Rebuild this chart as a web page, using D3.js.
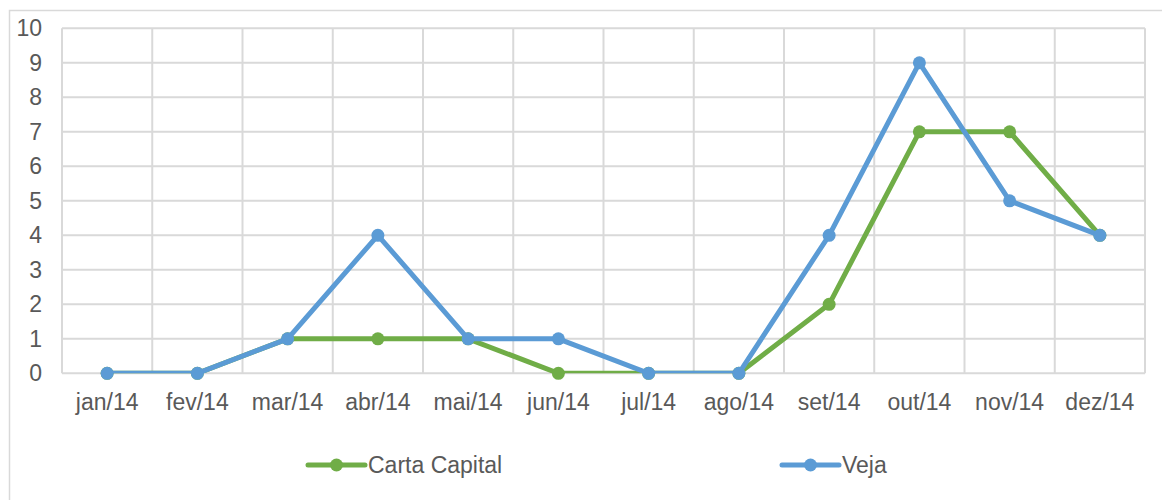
<!DOCTYPE html>
<html>
<head>
<meta charset="utf-8">
<script src="https://cdn.jsdelivr.net/npm/d3@7.9.0/dist/d3.min.js"></script>
<style>
  body { margin: 0; background: #fff; }
  svg text { font-family: "Liberation Sans", Arial, sans-serif; fill: #595959; }
</style>
</head>
<body>
<svg id="chart" width="1162" height="500"></svg>
<script>
const months = ['jan/14', 'fev/14', 'mar/14', 'abr/14', 'mai/14', 'jun/14',
                'jul/14', 'ago/14', 'set/14', 'out/14', 'nov/14', 'dez/14'];
const cartaCapital = [0, 0, 1, 1, 1, 0, 0, 0, 2, 7, 7, 4];
const veja = [0, 0, 1, 4, 1, 1, 0, 0, 4, 9, 5, 4];
const yTicks = [0, 1, 2, 3, 4, 5, 6, 7, 8, 9, 10];

const series = [
    { name: 'Carta Capital', values: cartaCapital, color: '#70ad47' },
    { name: 'Veja', values: veja, color: '#5b9bd5' }
];

const svg = d3.select('#chart');
const plot = { left: 62, right: 1145, top: 28.3, bottom: 373.3 };

// outer chart frame (runs off the right and bottom)
svg.append('rect')
    .attr('x', 9.5).attr('y', 10.5)
    .attr('width', 1300).attr('height', 700)
    .attr('fill', 'none').attr('stroke', '#d9d9d9').attr('stroke-width', 1.5);

const x = d3.scaleBand().domain(months).range([plot.left, plot.right]);
const y = d3.scaleLinear().domain([0, 10]).range([plot.bottom, plot.top]);

// grid
const grid = svg.append('g').attr('stroke', '#d9d9d9').attr('stroke-width', 2);
yTicks.forEach(t => {
    grid.append('line')
        .attr('x1', plot.left).attr('x2', plot.right)
        .attr('y1', y(t)).attr('y2', y(t));
});
months.concat([null]).forEach((m, i) => {
    let xv = m === null ? x.range()[1] : x(m);
    grid.append('line')
        .attr('x1', xv).attr('x2', xv)
        .attr('y1', plot.top).attr('y2', plot.bottom);
});

// y axis labels
const yAxis = svg.append('g')
    .attr('transform', `translate(${plot.left},0)`)
    .call(d3.axisLeft(y).tickValues(yTicks).tickSize(0).tickPadding(20));
yAxis.select('.domain').remove();
yAxis.selectAll('text')
    .attr('font-size', 23).attr('fill', '#595959')
    .style('font-family', '"Liberation Sans", Arial, sans-serif');

// x axis labels
const xAxis = svg.append('g')
    .attr('transform', `translate(0,${plot.bottom})`)
    .call(d3.axisBottom(x).tickSize(0).tickPadding(20));
xAxis.select('.domain').remove();
xAxis.selectAll('text')
    .attr('font-size', 23).attr('fill', '#595959')
    .style('font-family', '"Liberation Sans", Arial, sans-serif');

// clip lines to plot area, like the original
svg.append('clipPath').attr('id', 'plotclip')
    .append('rect')
    .attr('x', plot.left).attr('y', plot.top - 10)
    .attr('width', plot.right - plot.left)
    .attr('height', plot.bottom - plot.top + 10);

const cx = m => x(m) + x.bandwidth() / 2;
const line = d3.line()
    .x((d, i) => cx(months[i]))
    .y(d => y(d));

series.forEach(s => {
    svg.append('path')
        .attr('d', line(s.values))
        .attr('fill', 'none')
        .attr('stroke', s.color)
        .attr('stroke-width', 5)
        .attr('stroke-linejoin', 'round')
        .attr('clip-path', 'url(#plotclip)');
    svg.append('g').selectAll('circle')
        .data(s.values)
        .join('circle')
        .attr('cx', (d, i) => cx(months[i]))
        .attr('cy', d => y(d))
        .attr('r', 6.5)
        .attr('fill', s.color);
});

// legend
const legendItems = [{ x: 308, s: series[0] }, { x: 782, s: series[1] }];
legendItems.forEach(item => {
    let g = svg.append('g').attr('transform', `translate(${item.x},465)`);
    g.append('line')
        .attr('x1', 0).attr('x2', 57)
        .attr('stroke', item.s.color).attr('stroke-width', 5)
        .attr('stroke-linecap', 'round');
    g.append('circle').attr('cx', 28.5).attr('r', 6.5).attr('fill', item.s.color);
    g.append('text')
        .attr('x', 60).attr('y', 8)
        .attr('font-size', 23)
        .text(item.s.name);
});
</script>
</body>
</html>
